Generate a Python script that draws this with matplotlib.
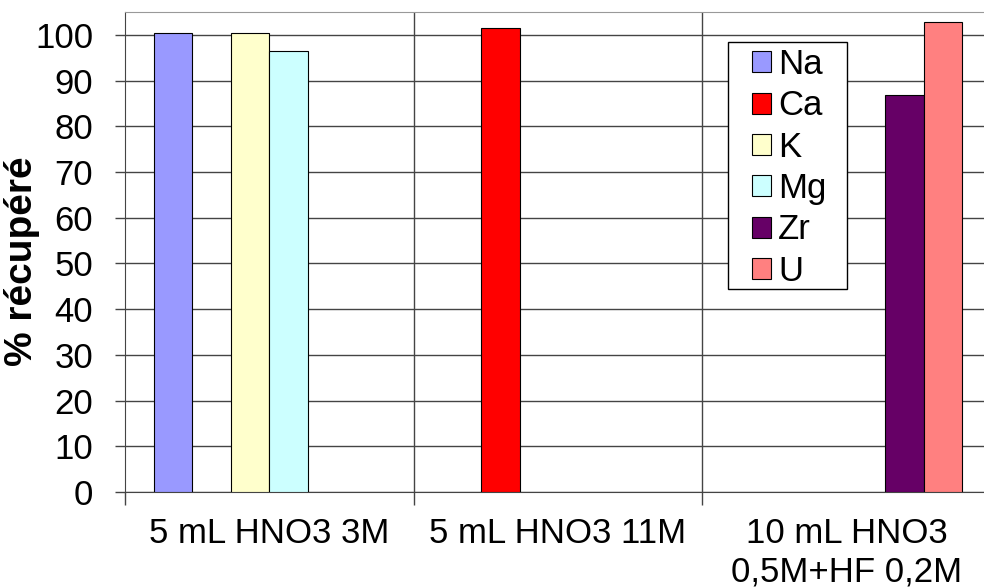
import numpy as np
import matplotlib
matplotlib.use("Agg")
import matplotlib.pyplot as plt
from matplotlib.patches import Rectangle
from matplotlib.ticker import FixedLocator, NullFormatter

plt.rcParams.update({
    "font.family": ["Liberation Sans", "DejaVu Sans"],
    "font.size": 25,
})

# Recovery (%) per element for each digestion medium; NaN = not measured
conditions = ["5 mL HNO3 3M", "5 mL HNO3 11M", "10 mL HNO3\n0,5M+HF 0,2M"]
elements = ["Na", "Ca", "K", "Mg", "Zr", "U"]
na = [100.3, np.nan, np.nan]
ca = [np.nan, 101.4, np.nan]
k = [100.5, np.nan, np.nan]
mg = [96.5, np.nan, np.nan]
zr = [np.nan, np.nan, 86.9]
u = [np.nan, np.nan, 102.9]
colors = ["#9999FF", "#FF0000", "#FFFFCC", "#CCFFFF", "#660066", "#FF8080"]

series = [na, ca, k, mg, zr, u]
W, H = 984, 588

fig = plt.figure(figsize=(W / 100, H / 100), dpi=100)
ax = fig.add_axes([125 / W, 1 - 492 / H, 866 / W, 480 / H])

x = np.arange(len(conditions))
width = 1 / 7.5
offsets = (np.arange(len(elements)) - 2.5) * width
for vals, off, col, name in zip(series, offsets, colors, elements):
    ax.bar(x + off, vals, width, color=col, edgecolor="black",
           linewidth=0.8, label=name, zorder=3)

ax.set_xlim(-0.5, 2.5)
ax.set_ylim(0, 105)
ax.set_yticks(range(0, 101, 10))
ax.grid(axis="y", color="#444444", linewidth=1.0, zorder=0)

# group separators: vertical lines plus tick marks below the axis
ax.set_xticks(x)
ax.set_xticklabels(conditions, linespacing=1.2)
ax.tick_params(axis="x", which="major", length=0, pad=18)
ax.xaxis.set_minor_locator(FixedLocator([-0.5, 0.5, 1.5, 2.5]))
ax.xaxis.set_minor_formatter(NullFormatter())
ax.tick_params(axis="x", which="minor", length=9, color="#444444", width=1)
for sep in [0.5, 1.5]:
    ax.axvline(sep, color="#444444", linewidth=1.0, zorder=1)
ax.tick_params(axis="y", length=7, color="#444444", width=1, pad=16)

ax.spines["top"].set_color("#999999")
ax.spines["right"].set_visible(False)
ax.spines["left"].set_color("#444444")
ax.spines["bottom"].set_color("#444444")

ax.set_ylabel("% récupéré", fontweight="bold", fontsize=28)
ax.yaxis.set_label_coords(-85 / 866, 0.48)

# legend box drawn separately so the left margin can be wider than the top
ax.add_patch(Rectangle((728 / W, 1 - 289 / H), 119 / W, 247 / H,
                       transform=fig.transFigure, facecolor="white",
                       edgecolor="black", linewidth=1.0, zorder=4,
                       clip_on=False))
leg = ax.legend(loc="upper left", bbox_to_anchor=(752 / W, 1 - 48 / H),
                bbox_transform=fig.transFigure, fontsize=25, frameon=False,
                handlelength=0.55, handleheight=0.55, handletextpad=0.2,
                labelspacing=0.24, borderpad=0, borderaxespad=0)
leg.set_zorder(5)

fig.savefig("out.png", dpi=100)
